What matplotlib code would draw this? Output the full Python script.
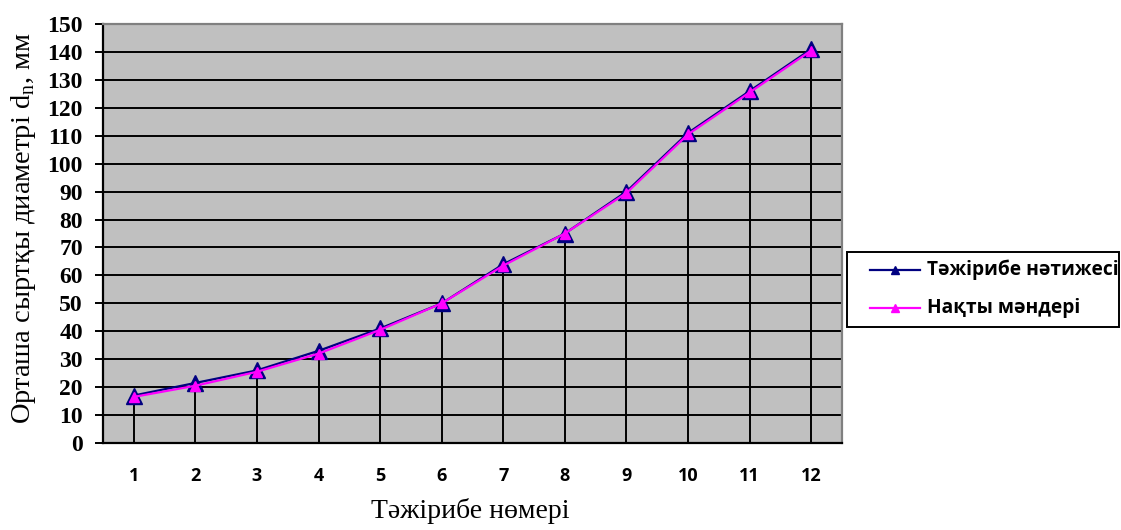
import matplotlib
matplotlib.use("Agg")
import matplotlib.pyplot as plt
from matplotlib.lines import Line2D
from matplotlib.patches import Rectangle

# Experiment numbers and measured / actual mean outer diameters (mm)
experiments = [1, 2, 3, 4, 5, 6, 7, 8, 9, 10, 11, 12]
measured = [17, 21.5, 26, 33, 41, 50, 64, 75, 90, 111, 126, 141]
actual = [16.5, 20.5, 25.5, 32, 40.5, 50, 63.5, 75, 89.5, 110.5, 125.5, 140.5]
y_ticks = list(range(0, 151, 10))

series_names = ["Тәжірибе нәтижесі", "Нақты мәндері"]
series_colors = ["#000080", "#FF00FF"]
x_label = "Тәжірибе нөмері"
y_label = "Орташа сыртқы диаметрі d$_{\\mathregular{n}}$, мм"

serif = ["Liberation Serif", "DejaVu Serif"]
sans = ["Open Sans", "DejaVu Sans"]

W, H = 1121, 530
fig = plt.figure(figsize=(W / 100, H / 100), dpi=100)
ax = fig.add_axes([103 / W, 1 - 443 / H, 739 / W, 419 / H])
ax.set_facecolor("#C0C0C0")

ax.set_xlim(0.5, 12.5)
ax.set_ylim(0, 150)

# Horizontal gridlines
ax.set_yticks(y_ticks)
ax.yaxis.grid(True, color="black", linewidth=1.4)
ax.set_axisbelow(True)

# Drop lines from each point down to the category axis
ax.vlines(experiments, 0, measured, colors="black", linewidth=1.4, zorder=2)

ax.plot(experiments, measured, color=series_colors[0], linewidth=1.6,
        marker="^", markersize=11, markerfacecolor=series_colors[0],
        markeredgecolor=series_colors[0], zorder=3)
ax.plot(experiments, actual, color=series_colors[1], linewidth=1.6,
        marker="^", markersize=7, markerfacecolor=series_colors[1],
        markeredgecolor=series_colors[1], zorder=4)

for side in ("top", "right"):
    ax.spines[side].set_color("#808080")
    ax.spines[side].set_linewidth(1.6)
for side in ("left", "bottom"):
    ax.spines[side].set_color("black")
    ax.spines[side].set_linewidth(1.6)

ax.set_xticks(experiments)
ax.set_xticklabels([str(e) for e in experiments], fontfamily=sans,
                   fontweight="bold", fontsize=13)
ax.tick_params(axis="x", length=0, pad=17)
ax.set_yticklabels([str(t) for t in y_ticks], fontfamily=serif,
                   fontweight="bold", fontsize=17)
ax.tick_params(axis="y", length=5.5, width=1.4, color="black", pad=9)

ax.set_xlabel(x_label, fontfamily=serif, fontsize=20)
ax.xaxis.set_label_coords(0.497, -0.162)
ax.xaxis.label.set_va("center")
ax.set_ylabel(y_label, fontfamily=serif, fontsize=20.5)
ax.yaxis.set_label_coords(-0.108, 0.513)
ax.yaxis.label.set_va("center")

# Legend box to the right of the plot area
lx0, ly0, lx1, ly1 = 847, 252, 1119, 327
fig.add_artist(Rectangle((lx0 / W, 1 - ly1 / H), (lx1 - lx0) / W,
                         (ly1 - ly0) / H, transform=fig.transFigure,
                         facecolor="white", edgecolor="black", linewidth=1.4))
for name, color, yc in zip(series_names, series_colors, (270, 308)):
    fig.add_artist(Line2D([870 / W, 920 / W], [1 - yc / H, 1 - yc / H],
                          transform=fig.transFigure, color=color,
                          linewidth=1.6))
    fig.add_artist(Line2D([895 / W], [1 - yc / H], transform=fig.transFigure,
                          color=color, marker="^", markersize=6,
                          linestyle="none"))
    fig.text(927 / W, 1 - yc / H, name, fontfamily=sans, fontweight="bold",
             fontsize=13.8, va="center", ha="left")

fig.savefig("out.png", dpi=100)
